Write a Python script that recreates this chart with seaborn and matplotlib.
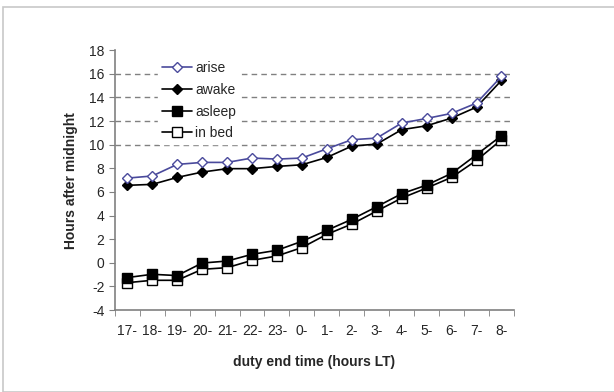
import matplotlib
matplotlib.use('Agg')
from matplotlib import pyplot as plt
from matplotlib.patches import Rectangle
import matplotlib.ticker as ticker
import seaborn as sns
import pandas as pd

sns.set_style('white')
plt.rcParams['font.family'] = ['Liberation Sans', 'DejaVu Sans']
plt.rcParams['axes.unicode_minus'] = False

duty_end = ['17-', '18-', '19-', '20-', '21-', '22-', '23-', '0-',
            '1-', '2-', '3-', '4-', '5-', '6-', '7-', '8-']
arise = [7.17, 7.35, 8.33, 8.5, 8.5, 8.87, 8.78, 8.87,
         9.65, 10.42, 10.56, 11.83, 12.22, 12.65, 13.52, 15.78]
awake = [6.56, 6.64, 7.23, 7.68, 7.97, 7.97, 8.16, 8.3,
         8.92, 9.88, 10.05, 11.27, 11.6, 12.25, 13.18, 15.44]
asleep = [-1.25, -0.97, -1.08, -0.02, 0.15, 0.72, 1.06, 1.82,
          2.75, 3.68, 4.75, 5.85, 6.58, 7.57, 9.15, 10.76]
in_bed = [-1.68, -1.48, -1.48, -0.55, -0.41, 0.21, 0.58, 1.29,
          2.41, 3.28, 4.38, 5.48, 6.33, 7.23, 8.67, 10.42]

df = pd.DataFrame({'pos': range(len(duty_end)), 'arise': arise, 'awake': awake,
                   'asleep': asleep, 'in bed': in_bed})

fig = plt.figure(figsize=(6.14, 3.92), dpi=100)
fig.patches.append(Rectangle((3 / 614, 0), 1, 385 / 392, transform=fig.transFigure,
                             fill=False, edgecolor='#c8c8c8', lw=1.2))
ax = fig.add_axes([0.187, 0.209, 0.650, 0.663])

for y in [10, 12, 14, 16]:
    ax.axhline(y, color='#808080', ls=(0, (4, 3)), lw=1, zorder=0)

styles = {
    'arise': dict(marker='D', color='#4a4a9c', markerfacecolor='white',
                  markeredgecolor='#4a4a9c', markersize=5.5),
    'awake': dict(marker='D', color='black', markerfacecolor='black',
                  markeredgecolor='black', markersize=5.5),
    'asleep': dict(marker='s', color='black', markerfacecolor='black',
                   markeredgecolor='black', markersize=7),
    'in bed': dict(marker='s', color='black', markerfacecolor='white',
                   markeredgecolor='black', markersize=6.5),
}
for name in ['in bed', 'asleep', 'awake', 'arise']:
    sns.lineplot(data=df, x='pos', y=name, ax=ax, label=name, lw=1.2,
                 markeredgewidth=1, **styles[name])

ax.set_xlim(-0.5, len(duty_end) - 0.5)
ax.set_ylim(-4, 18)
ax.yaxis.set_major_locator(ticker.MultipleLocator(2))
ax.set_xticks(range(len(duty_end)))
ax.set_xticklabels(duty_end)
ax.xaxis.set_minor_locator(ticker.FixedLocator([i - 0.5 for i in range(len(duty_end) + 1)]))
ax.tick_params(axis='x', which='major', length=0, labelsize=10, pad=10)
ax.tick_params(axis='x', which='minor', length=4, color='#808080', direction='out', bottom=True)
ax.tick_params(axis='y', length=4, color='#808080', direction='out', left=True, labelsize=10)

for s in ['top', 'right']:
    ax.spines[s].set_visible(False)
for s in ['left', 'bottom']:
    ax.spines[s].set_color('#808080')
    ax.spines[s].set_linewidth(1.2)

ax.set_xlabel('duty end time (hours LT)', fontsize=10, fontweight='bold', labelpad=12)
ax.set_ylabel('Hours after midnight', fontsize=10, fontweight='bold', labelpad=8)

handles, labels = ax.get_legend_handles_labels()
order = ['arise', 'awake', 'asleep', 'in bed']
hmap = dict(zip(labels, handles))
ax.legend([hmap[k] for k in order], order, loc='upper left', bbox_to_anchor=(0.09, 1.0),
          frameon=True, framealpha=1, edgecolor='white', fontsize=10,
          handlelength=2.2, handletextpad=0.2, labelspacing=0.55, borderpad=0.3)

fig.savefig('out.png', dpi=100)
